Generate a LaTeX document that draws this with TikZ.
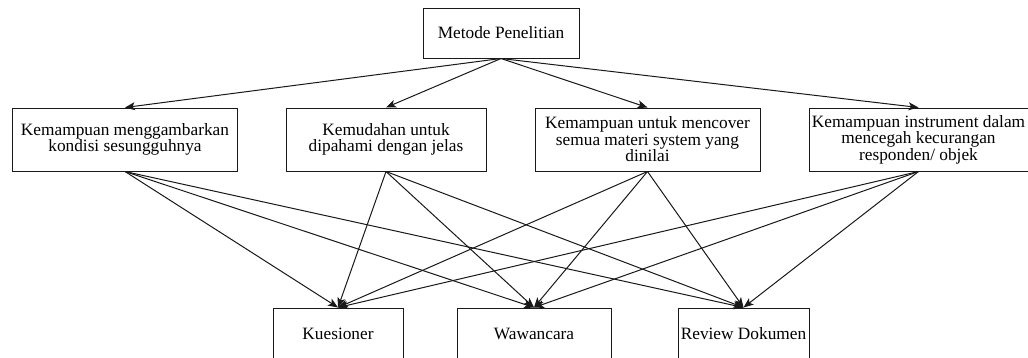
\documentclass[tikz,border=0pt]{standalone}
\usepackage{fontspec}
\setmainfont{Liberation Serif}
\usetikzlibrary{arrows.meta}
\begin{document}
\begin{tikzpicture}[x=1pt,y=-1pt,
  box/.style={draw=black!90,line width=1pt,fill=white,inner sep=0pt,align=center,
    font=\fontsize{17.3}{16.5}\selectfont},
  arr/.style={draw=black!90,line width=1pt,-{Stealth[length=10pt,width=8pt,inset=2.5pt]}}]
\useasboundingbox[fill=white] (0,0) rectangle (1028,357);
\node[box,minimum width=156pt,minimum height=50pt] (top) at (501,33) {Metode Penelitian};
\node[box,minimum width=225pt,minimum height=63pt] (k1) at (125,139.5) {Kemampuan menggambarkan\\kondisi sesungguhnya};
\node[box,minimum width=200pt,minimum height=63pt] (k2) at (386,139.5) {Kemudahan untuk\\dipahami dengan jelas};
\node[box,minimum width=225pt,minimum height=63pt] (k3) at (647.5,139.5) {Kemampuan untuk mencover\\semua materi system yang\\dinilai};
\node[box,minimum width=219pt,minimum height=63pt] (k4) at (918.5,139.5) {Kemampuan instrument dalam\\mencegah kecurangan\\responden/ objek};
\node[box,minimum width=130pt,minimum height=51pt] (q) at (338,333.5) {Kuesioner};
\node[box,minimum width=154pt,minimum height=51pt] (w) at (534,333.5) {Wawancara};
\node[box,minimum width=131pt,minimum height=51pt] (r) at (743.5,333.5) {Review Dokumen};
\foreach \k in {k1,k2,k3,k4}{
  \draw[arr] (top.south) -- (\k.north);
  \foreach \b in {q,w,r}{
    \draw[arr] (\k.south) -- (\b.north);
  }
}
\end{tikzpicture}
\end{document}
